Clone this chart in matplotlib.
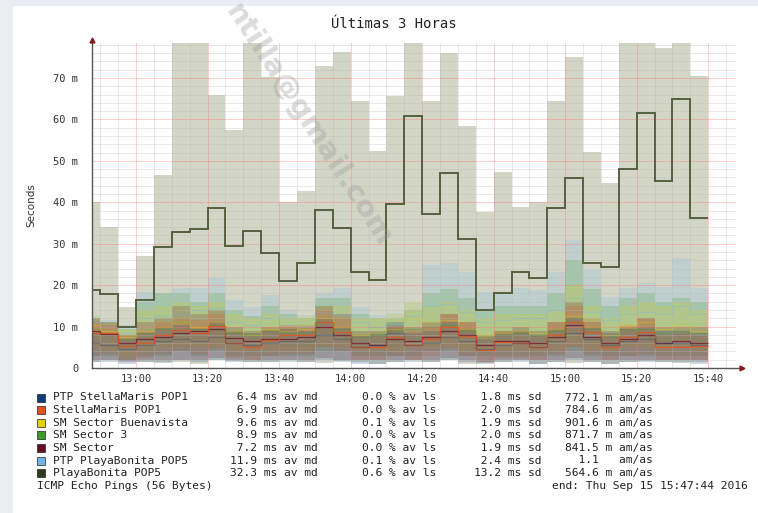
import matplotlib
matplotlib.use("Agg")
import matplotlib.pyplot as plt
from matplotlib.patches import Rectangle

W, H = 758, 513

# 5-minute bins, minutes after 12:00 (first bin 12:45-12:50, last 15:35-15:40)
bin_edges = list(range(45, 225, 5))
t_start, t_end = 47.733, 227.733   # 12:47:44 .. 15:47:44

# PlayaBonita POP5 (grey smoke + median)
gray_hi = [40.0, 34.0, 14.8, 27.1, 46.6, 80, 80, 66.0, 57.4, 80,
           70.2, 40.0, 42.7, 73.0, 76.2, 64.5, 52.4, 65.7, 80, 64.4,
           76.1, 58.3, 37.7, 47.3, 38.9, 40.1, 64.4, 75.1, 52.2, 44.7,
           80, 80, 77.3, 80, 70.6]
gray_lo = [1.5, 2.0, 1.8, 1.5, 1.2, 1.5, 1.0, 2.0, 1.8, 1.5,
           1.5, 2.0, 1.5, 1.2, 1.8, 1.5, 1.0, 1.5, 2.0, 1.5,
           2.0, 1.0, 1.2, 1.5, 2.0, 1.0, 1.5, 1.2, 1.5, 1.0,
           1.5, 1.8, 1.5, 1.2, 1.5]
gray_md = [18.8, 17.8, 9.8, 16.4, 29.3, 32.9, 33.5, 38.7, 29.5, 33.1,
           27.7, 21.1, 25.3, 38.1, 33.9, 23.1, 21.2, 39.5, 60.8, 37.2,
           47.0, 31.1, 14.0, 18.0, 23.1, 21.8, 38.7, 45.9, 25.4, 24.3,
           48.0, 61.6, 45.2, 64.9, 36.3]

# PTP PlayaBonita POP5
lblue_md = [11.0, 10.0, 8.5, 12.0, 12.5, 13.0, 14.0, 14.5, 11.0, 10.5,
            12.0, 10.5, 10.0, 13.5, 13.0, 11.0, 10.0, 10.5, 12.5, 15.0,
            15.5, 13.5, 11.0, 11.5, 12.0, 12.0, 14.0, 17.0, 13.5, 11.5,
            13.0, 13.5, 13.0, 15.0, 13.0]
lblue_hi = [12.8, 11.6, 10.4, 18.4, 18.0, 19.3, 19.3, 21.7, 16.4, 14.8,
            17.6, 14.0, 12.8, 18.0, 19.3, 14.8, 12.8, 13.3, 15.8, 24.9,
            25.3, 23.2, 18.4, 18.0, 19.2, 18.8, 23.2, 30.9, 23.7, 17.2,
            19.2, 20.4, 19.6, 26.5, 19.2]
lblue_lo = [6, 5, 4, 6, 6, 7, 7, 8, 6, 5, 6, 5, 5, 7, 7, 5, 5, 5, 6, 8,
            8, 7, 5, 6, 6, 6, 7, 9, 7, 5, 6, 7, 6, 7, 6]

# SM Sector 3
green_md = [9.5, 8.5, 7.0, 8.5, 9.5, 11.0, 9.5, 10.5, 8.5, 8.0,
            9.0, 8.5, 8.5, 11.0, 9.5, 7.5, 8.0, 9.0, 9.5, 10.0,
            10.5, 9.0, 7.5, 8.0, 8.5, 8.0, 9.0, 12.0, 9.5, 7.5,
            9.5, 9.5, 8.5, 9.0, 8.5]
green_hi = [12.0, 11.0, 9.5, 16.0, 18.0, 18.0, 16.0, 18.0, 14.0, 12.5,
            15.0, 13.0, 12.0, 17.0, 17.0, 13.0, 12.0, 12.0, 14.0, 18.0,
            19.0, 17.0, 14.0, 15.0, 15.0, 15.0, 18.0, 26.0, 19.0, 15.0,
            17.0, 18.0, 16.0, 17.0, 16.0]
green_lo = [3, 3, 2, 3, 3, 4, 3, 4, 3, 3, 3, 3, 3, 4, 4, 3, 3, 3, 3, 4,
            4, 3, 3, 3, 3, 3, 3, 4, 3, 3, 3, 3, 3, 3, 3]

# SM Sector Buenavista
yellow_md = [10.5, 9.0, 7.5, 9.0, 10.0, 11.0, 10.0, 11.0, 9.0, 8.0,
             9.5, 9.0, 9.5, 12.0, 10.0, 8.0, 8.5, 9.5, 12.0, 11.0,
             11.5, 9.5, 8.0, 8.5, 9.0, 8.5, 9.5, 12.5, 10.0, 8.0,
             10.5, 11.0, 9.5, 10.5, 9.0]
yellow_hi = [12.5, 11.0, 9.5, 14.0, 15.0, 16.0, 15.0, 16.0, 13.0, 12.0,
             13.0, 12.0, 12.5, 15.0, 15.0, 12.0, 12.0, 13.0, 16.0, 15.0,
             16.0, 14.0, 12.0, 13.0, 13.0, 13.0, 14.0, 20.0, 15.0, 12.0,
             15.0, 16.0, 15.0, 16.0, 14.0]
yellow_lo = [5, 4, 3, 4, 5, 5, 5, 5, 4, 4, 4, 4, 4, 5, 5, 4, 4, 4, 5, 5,
             5, 4, 4, 4, 4, 4, 4, 5, 4, 4, 5, 5, 4, 5, 4]

# StellaMaris POP1
red_md = [8.5, 8.5, 5.2, 6.0, 8.0, 9.2, 8.5, 10.1, 6.0, 5.1,
          6.8, 8.0, 8.0, 11.2, 8.8, 5.1, 5.1, 7.6, 5.6, 6.9,
          10.0, 7.7, 4.3, 6.3, 6.1, 5.1, 8.0, 11.2, 8.6, 5.1,
          7.6, 8.8, 5.0, 5.1, 5.2]
red_hi = [11.0, 10.5, 8.0, 9.0, 11.0, 12.0, 11.5, 13.0, 9.0, 8.0,
          9.5, 10.5, 10.5, 14.0, 12.0, 8.0, 8.0, 10.5, 9.0, 10.0,
          13.0, 11.0, 7.5, 9.0, 9.0, 8.0, 11.0, 15.0, 12.0, 8.0,
          10.5, 12.0, 8.0, 8.5, 8.0]
red_lo = [3.0, 3.5, 2.0, 2.5, 3.5, 4.0, 3.5, 4.5, 2.5, 2.0,
          3.0, 3.5, 3.5, 5.0, 4.0, 2.0, 2.0, 3.0, 2.0, 3.0,
          4.5, 3.0, 1.5, 2.5, 2.5, 2.0, 3.5, 5.0, 3.5, 2.0,
          3.0, 3.5, 2.0, 2.0, 2.0]

# SM Sector
maroon_md = [9.0, 8.2, 6.0, 7.0, 7.5, 8.5, 9.0, 9.5, 7.2, 6.5,
             7.0, 7.0, 7.5, 10.0, 8.0, 6.0, 5.5, 7.0, 6.5, 7.5,
             9.0, 8.0, 5.5, 6.5, 6.5, 6.0, 7.5, 10.5, 7.5, 6.0,
             7.0, 8.0, 6.0, 6.5, 6.0]
maroon_hi = [12.0, 11.0, 8.0, 11.0, 12.0, 15.0, 13.0, 14.0, 10.0, 9.0,
             10.0, 10.0, 10.0, 15.0, 13.0, 9.0, 9.0, 10.0, 10.0, 11.0,
             13.0, 11.0, 8.0, 9.0, 10.0, 9.0, 11.0, 16.0, 11.0, 9.0,
             10.0, 12.0, 10.0, 10.0, 10.0]
maroon_lo = [2.0, 2.0, 1.5, 2.0, 2.0, 2.0, 2.0, 2.5, 2.0, 2.0,
             2.0, 2.0, 2.0, 2.5, 2.0, 2.0, 2.0, 2.0, 2.0, 2.0,
             2.5, 2.0, 1.5, 2.0, 2.0, 2.0, 2.0, 2.5, 2.0, 2.0,
             2.0, 2.0, 2.0, 2.0, 2.0]

# PTP StellaMaris POP1
blue_md = [6.0, 5.5, 4.5, 5.5, 6.5, 7.0, 6.5, 7.5, 6.0, 5.5,
           6.0, 6.5, 6.5, 8.0, 7.0, 5.0, 5.5, 8.4, 5.5, 6.0,
           7.5, 6.5, 4.5, 5.5, 6.0, 5.0, 6.5, 8.5, 7.0, 5.5,
           6.5, 7.0, 6.0, 6.0, 5.5]
blue_hi = [9.0, 8.5, 7.0, 8.5, 10.0, 10.5, 9.5, 11.0, 9.0, 8.5,
           9.0, 9.5, 9.0, 12.0, 10.0, 8.0, 8.5, 11.0, 8.5, 9.0,
           11.0, 9.5, 7.0, 8.5, 9.0, 8.0, 9.5, 12.0, 10.0, 8.5,
           9.5, 10.0, 9.0, 9.0, 8.5]
blue_lo = [1.5, 1.5, 1.0, 1.5, 1.5, 2.0, 1.5, 2.0, 1.5, 1.5,
           1.5, 1.5, 1.5, 2.0, 1.5, 1.0, 1.0, 1.5, 1.5, 1.5,
           2.0, 1.5, 1.0, 1.5, 1.5, 1.0, 1.5, 2.0, 1.5, 1.0,
           1.5, 1.5, 1.5, 1.5, 1.0]

names = ["PTP StellaMaris POP1", "StellaMaris POP1", "SM Sector Buenavista",
         "SM Sector 3", "SM Sector", "PTP PlayaBonita POP5", "PlayaBonita POP5"]
colors = ["#0b3d7c", "#e2521d", "#e6cf00", "#3f9a2c", "#6b0b22", "#6fb3ea", "#2b3b1c"]
avg_md = [6.4, 6.9, 9.6, 8.9, 7.2, 11.9, 32.3]
avg_ls = [0.0, 0.0, 0.1, 0.0, 0.0, 0.1, 0.6]
avg_sd = [1.8, 2.0, 1.9, 2.0, 1.9, 2.4, 13.2]
amas = ["772.1 m", "784.6 m", "901.6 m", "871.7 m", "841.5 m", "  1.1  ", "564.6 m"]

x_ticks = [60, 80, 100, 120, 140, 160, 180, 200, 220]
x_labels = ["13:00", "13:20", "13:40", "14:00", "14:20", "14:40", "15:00", "15:20", "15:40"]
y_ticks = [0, 10, 20, 30, 40, 50, 60, 70]
y_labels = ["0", "10 m", "20 m", "30 m", "40 m", "50 m", "60 m", "70 m"]

mono = "DejaVu Sans Mono"


def fx(x):
    return x / W


def fy(y):
    return 1 - y / H


fig = plt.figure(figsize=(W / 100, H / 100), dpi=100, facecolor="#eaedf1")
fig.patches.append(Rectangle((fx(13), 0), 1, fy(6), transform=fig.transFigure,
                             facecolor="white", edgecolor="none", zorder=-5))

ax = fig.add_axes([fx(92.2), fy(368), fx(735.9) - fx(92.2), fy(42.8) - fy(368)])
ax.set_zorder(1)
ax.set_facecolor("none")
ax.set_xlim(t_start, t_end)
ax.set_ylim(0, 78.5)

# smoke
ax.stairs(gray_hi, bin_edges, baseline=gray_lo, fill=True, color="#d3d6c6", lw=0, zorder=1)
others = [
    (lblue_lo, lblue_hi, lblue_md, colors[5], 0.3),
    (green_lo, green_hi, green_md, colors[3], 0.3),
    (yellow_lo, yellow_hi, yellow_md, colors[2], 0.3),
    (maroon_lo, maroon_hi, maroon_md, colors[4], 0.7),
    (red_lo, red_hi, red_md, colors[1], 0.85),
    (blue_lo, blue_hi, blue_md, colors[0], 0.3),
]
for lo, hi, md, c, la in others:
    ax.stairs(hi, bin_edges, baseline=lo, fill=True, color=c, alpha=0.2, lw=0, zorder=1.2)
for lo, hi, md, c, la in others:
    ax.stairs(md, bin_edges, baseline=None, color=c, lw=0.9, alpha=la, zorder=3)
ax.stairs(gray_md, bin_edges, baseline=None, color="#55603f", lw=1.4, zorder=3.2)

# grid
ax.set_xticks(x_ticks)
ax.set_xticklabels(x_labels, fontsize=7.5, family=mono, color="#333333")
ax.set_xticks(range(50, 230, 5), minor=True)
ax.set_yticks(y_ticks)
ax.set_yticklabels(y_labels, fontsize=7.5, family=mono, color="#333333")
ax.set_yticks(range(0, 79, 2), minor=True)
ax.tick_params(which="both", length=0)
ax.tick_params(axis="x", pad=4)
ax.tick_params(axis="y", pad=10)
ax.set_axisbelow(False)
ax.grid(which="minor", color="#b8b8b8", lw=0.5, alpha=0.45)
ax.grid(which="major", color="#ff7070", lw=0.6, alpha=0.4)
for s in ax.spines.values():
    s.set_visible(False)

# axes with arrows
ax.plot([0, 0], [0, 1.01], color="#555555", lw=1.0, transform=ax.transAxes, clip_on=False, zorder=4)
xa = (742 - 92.2) / (735.9 - 92.2)
ax.plot([0, xa], [0, 0], color="#555555", lw=1.0, transform=ax.transAxes, clip_on=False, zorder=4)
ax.plot([0], [1.01], marker="^", ms=3.5, color="#8b1a1a", transform=ax.transAxes, clip_on=False, zorder=5)
ax.plot([xa], [0], marker=">", ms=3.5, color="#8b1a1a", transform=ax.transAxes, clip_on=False, zorder=5)

# title and axis label
fig.text(fx(394), fy(24), "Últimas 3 Horas", family=mono, fontsize=10, ha="center", va="center", color="#222222")
fig.text(fx(31), fy(205), "Seconds", fontsize=7.5, rotation=90, ha="center", va="center", color="#333333")

# legend
row_y = [397.5, 410.1, 422.7, 435.3, 447.9, 460.5, 473.1]
kw = dict(family=mono, fontsize=8.1, va="center", ha="left", color="#222222")
for i, name in enumerate(names):
    y = fy(row_y[i])
    fig.patches.append(Rectangle((fx(37), y - 4 / H), 8 / W, 8 / H, transform=fig.transFigure,
                                 facecolor=colors[i], edgecolor="#222222", lw=0.5))
    fig.text(fx(53), y, name, **kw)
    fig.text(fx(230), y, "%4.1f ms av md" % avg_md[i], **kw)
    fig.text(fx(362), y, "%.1f %% av ls" % avg_ls[i], **kw)
    fig.text(fx(474), y, "%4.1f ms sd" % avg_sd[i], **kw)
    fig.text(fx(565), y, "%s am/as" % amas[i], **kw)
fig.text(fx(37), fy(485.7), "ICMP Echo Pings (56 Bytes)", **kw)
fig.text(fx(748), fy(485.7), "end: Thu Sep 15 15:47:44 2016", family=mono, fontsize=8.1,
         va="center", ha="right", color="#222222")

# watermark
fig.text(fx(308), fy(125), "ntilla@gmail.com", fontsize=21, weight="bold", color="#9a9a9a",
         alpha=0.35, rotation=-57, ha="center", va="center", rotation_mode="anchor", zorder=10)

fig.savefig("out.png", dpi=100, facecolor=fig.get_facecolor())
